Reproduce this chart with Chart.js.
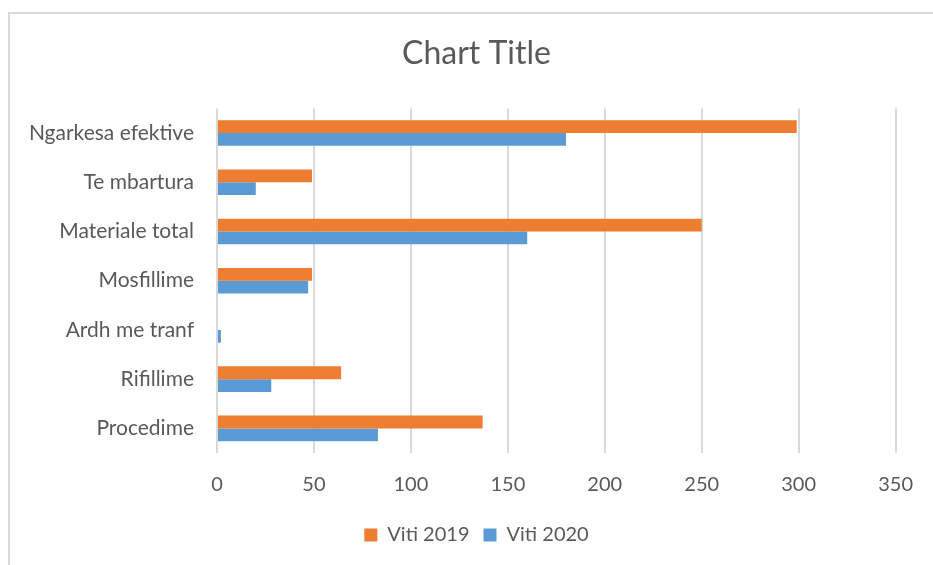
<!DOCTYPE html>
<html>
<head>
<meta charset="utf-8">
<script src="https://cdn.jsdelivr.net/npm/chart.js@4"></script>
<style>
  html, body { margin: 0; padding: 0; background: #fff; }
  #wrap { position: relative; width: 933px; height: 565px; }
  #frame { position: absolute; left: 8px; top: 12px; width: 940px; height: 570px;
           border-left: 2px solid #d9d9d9; border-top: 2px solid #d9d9d9; }
  canvas { position: absolute; left: 0; top: 0; }
</style>
</head>
<body>
<div id="wrap">
  <div id="frame"></div>
  <canvas id="myChart" width="933" height="565"></canvas>
</div>
<script>
// setup
const categories = [
    'Ngarkesa efektive',
    'Te mbartura',
    'Materiale total',
    'Mosfillime',
    'Ardh me tranf',
    'Rifillime',
    'Procedime',
];
const viti2019 = [299, 49, 250, 49, 0, 64, 137];
const viti2020 = [180, 20, 160, 47, 2, 28, 83];
const xTicks = [0, 50, 100, 150, 200, 250, 300, 350];

const textColor = '#595959';
const fontFamily = 'Lato, "Open Sans", sans-serif';

const data = {
    labels: categories,
    datasets: [{
        label: 'Viti 2019',
        backgroundColor: '#ED7D31',
        data: viti2019,
    }, {
        label: 'Viti 2020',
        backgroundColor: '#5B9BD5',
        data: viti2020,
    }]
};

// config
const config = {
    type: 'bar',
    data,
    options: {
        indexAxis: 'y',
        responsive: false,
        animation: false,
        datasets: {
            bar: {
                barPercentage: 1,
                categoryPercentage: 0.52,
            }
        },
        layout: {
            padding: { left: 20, right: 0, top: 0, bottom: 10 }
        },
        scales: {
            x: {
                min: 0,
                // scale runs a bit past the last tick so the plot ends with empty space on the right
                max: 368.5,
                afterBuildTicks: (axis) => {
                    axis.ticks = xTicks.map(v => ({ value: v }));
                },
                afterFit: (axis) => { axis.height = 58; },
                grid: {
                    color: '#d9d9d9',
                    lineWidth: 2,
                    drawTicks: false,
                },
                border: { display: false },
                ticks: {
                    color: textColor,
                    padding: 20,
                    font: { family: fontFamily, size: 20 },
                }
            },
            y: {
                afterFit: (axis) => { axis.width = 197; },
                grid: { display: false, drawTicks: false },
                border: { display: false },
                ticks: {
                    color: textColor,
                    padding: 23,
                    font: { family: fontFamily, size: 21 },
                }
            }
        },
        plugins: {
            title: {
                display: true,
                text: 'Chart Title',
                color: textColor,
                font: { family: fontFamily, size: 32, weight: 'normal' },
                padding: { top: 34, bottom: 36 },
            },
            legend: {
                position: 'bottom',
                labels: {
                    color: textColor,
                    boxWidth: 13,
                    boxHeight: 13,
                    padding: 14,
                    font: { family: fontFamily, size: 20 },
                }
            },
            tooltip: { enabled: false }
        }
    }
};

var myChart = new Chart(
    document.getElementById('myChart'),
    config
);
</script>
</body>
</html>
